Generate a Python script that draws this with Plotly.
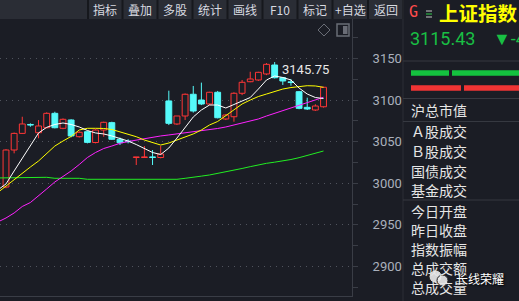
import plotly.graph_objects as go

W, H = 519, 301

# ---------------- data ----------------
idx = list(range(40))
opens = [2995.5, 3040, 3060, 3070.5, 3060.8, 3066.8, 3084.1, 3066.1, 3076.1, 3056,
         3062, 3049, 3064, 3072.9, 3052.9, 3050.5, 3031, 3031, 3031.5, 3031,
         3099, 3071.3, 3080.9, 3107, 3100.1, 3095.3, 3109.4, 3077.3, 3080, 3108.2,
         3122.1, 3124.2, 3131.4, 3142.2, 3126.9, 3121.6, 3110.1, 3091.3, 3088.1, 3092]
highs = [3041, 3061, 3080, 3072, 3076, 3085.3, 3086, 3078, 3077, 3062.5,
         3063, 3065, 3074, 3074, 3055, 3053, 3031.5, 3044.8, 3040, 3044.8,
         3111.3, 3081, 3108, 3117, 3121, 3110, 3111, 3083, 3109.4, 3124.2,
         3134.1, 3134, 3144.5, 3145.75, 3127.5, 3125.4, 3111, 3102.9, 3095, 3116]
lows = [2994, 3036, 3059.5, 3068, 3054.1, 3066, 3066, 3065, 3055.3, 3055,
        3048, 3048, 3056, 3052, 3046, 3048, 3022, 3031, 3022, 3030,
        3070, 3070, 3076.1, 3085, 3094, 3094, 3078, 3076, 3074, 3106,
        3121.5, 3123, 3130, 3126, 3118.2, 3117.3, 3089, 3088.1, 3087, 3091]
closes = [3040, 3060, 3071.3, 3070, 3068.9, 3084.1, 3066.8, 3076.9, 3056.9, 3061.3,
          3049.2, 3064, 3073.3, 3052.9, 3048.8, 3050, 3031.3, 3031.3, 3031, 3035.2,
          3072.1, 3080.9, 3107, 3086.9, 3095.3, 3109.4, 3078.8, 3082.1, 3108.2, 3121.4,
          3125.4, 3133.4, 3143, 3126.9, 3123, 3121.2, 3090.1, 3089.3, 3092.9, 3115.43]

ma_idx = list(range(-1, 40))
ma5 = [2992, 2999.2, 3014.8, 3030.4, 3044.8, 3060.5, 3067.3, 3070.7, 3072.5, 3070.7, 3067.7,
       3063.5, 3060.5, 3059.3, 3056.9, 3053.8, 3050.8, 3046.6, 3041.8, 3037, 3034.6,
       3042.4, 3054.4, 3067.7, 3079.7, 3088.1, 3094.1, 3094.1, 3090.5, 3094.7, 3098.9,
       3103.1, 3113.3, 3124.2, 3129, 3127.2, 3124.2, 3114.5, 3107.3, 3103.1, 3101.9]
ma10 = [2989, 2996.8, 3004.6, 3011.8, 3019.6, 3026.8, 3035.8, 3044.8, 3050.8, 3056.3, 3064.1,
        3066.1, 3066.1, 3065.9, 3064.7, 3062, 3059.3, 3056, 3052, 3049, 3046,
        3048.4, 3052, 3055.7, 3059.3, 3064.1, 3070.1, 3074.3, 3081.5, 3088.7, 3095.3,
        3100.1, 3104.3, 3107.3, 3110.3, 3113.3, 3115.1, 3116.6, 3117.3, 3117, 3115.4]
ma20 = [2953.5, 2958.3, 2964.3, 2972.1, 2976.9, 2984.7, 2993.2, 3001.6, 3008.2, 3014.8, 3022.6,
        3031, 3037, 3041.8, 3044.8, 3048.1, 3050.2, 3052, 3053.8, 3055.3, 3056.9,
        3058.1, 3059.3, 3060.5, 3061.7, 3063.7, 3064.7, 3065.9, 3067.7, 3070.1, 3072.5,
        3074.3, 3077.3, 3080.9, 3084.1, 3086.9, 3090.5, 3094.1, 3097.1, 3100.1, 3103.4]
ma60 = [3006.4, 3006.4, 3006.4, 3006.4, 3006.4, 3006.4, 3007.2, 3006, 3006, 3006, 3006,
        3004.8, 3004.8, 3004.8, 3004.8, 3004.8, 3004.8, 3004.8, 3004.8, 3004.8, 3004.8,
        3004.8, 3004.8, 3006, 3007, 3008.6, 3010, 3011.8, 3013.6, 3015.4, 3017.8,
        3020, 3022.4, 3024, 3025.4, 3026.6, 3028.6, 3030.8, 3033.2, 3035.8, 3038.8]

yticks = [2900, 2950, 3000, 3050, 3100, 3150]
buttons = ["指标", "叠加", "多股", "统计", "画线", "F10", "标记", "+自选", "返回"]
info_labels = ["沪总市值", "Ａ股成交", "Ｂ股成交", "国债成交", "基金成交",
               "今日开盘", "昨日收盘", "指数振幅", "总成交额", "总成交量"]
index_name = "上证指数"
last_price = "3115.43"
change_text = "▼-4.69"
peak_label = "3145.75"
watermark = "长线荣耀"

# ---------------- style ----------------
BG = "#1b1d25"
BAR_BG = "#2a2d35"
RED = "#ff3636"
CYAN = "#55fafa"
LINE = "#3a3d46"
CJK = "Noto Sans CJK SC"


def px(x):
    return x / W


def py(y):
    return 1 - y / H


fig = go.Figure()

# candle bodies
for is_up, fill, edge in [(True, BG, RED), (False, CYAN, CYAN)]:
    xs, bases, hs = [], [], []
    for i in idx:
        if (closes[i] >= opens[i]) == is_up:
            lo, hi = min(opens[i], closes[i]), max(opens[i], closes[i])
            xs.append(i)
            bases.append(lo)
            hs.append(max(hi - lo, 0.7))
    fig.add_trace(go.Bar(x=xs, y=hs, base=bases, width=0.72,
                         marker=dict(color=fill, line=dict(color=edge, width=1)),
                         hoverinfo="skip", showlegend=False))

# wicks
for is_up, col in [(True, RED), (False, CYAN)]:
    wx, wy = [], []
    for i in idx:
        if (closes[i] >= opens[i]) == is_up:
            lo, hi = min(opens[i], closes[i]), max(opens[i], closes[i])
            if highs[i] > hi:
                wx += [i, i, None]
                wy += [highs[i], hi, None]
            if lows[i] < lo:
                wx += [i, i, None]
                wy += [lo, lows[i], None]
    fig.add_trace(go.Scatter(x=wx, y=wy, mode="lines", line=dict(color=col, width=1),
                             hoverinfo="skip", showlegend=False))

# moving averages
for vals, col in [(ma60, "#22ee22"), (ma20, "#ff22ff"), (ma10, "#ffff00"), (ma5, "#ffffff")]:
    fig.add_trace(go.Scatter(x=ma_idx, y=vals, mode="lines", line=dict(color=col, width=1),
                             hoverinfo="skip", showlegend=False))

shapes = []
annotations = []

# toolbar
shapes.append(dict(type="rect", xref="paper", yref="paper", x0=0, x1=px(403), y0=py(19), y1=1,
                   fillcolor=BAR_BG, line=dict(width=0), layer="below"))
edges = [88, 122.5, 157.5, 192.5, 227.5, 262.5, 297.5, 332.5, 368, 403]
for e in edges:
    shapes.append(dict(type="line", xref="paper", yref="paper", x0=px(e), x1=px(e), y0=py(19), y1=1,
                       line=dict(color="#16181d", width=2)))
for k, name in enumerate(buttons):
    cx = (edges[k] + edges[k + 1]) / 2
    annotations.append(dict(xref="paper", yref="paper", x=px(cx), y=py(10), text=name, showarrow=False,
                            xanchor="center", yanchor="middle",
                            font=dict(family=CJK, size=12, color="#d8dae0")))

# right panel separators
shapes.append(dict(type="line", xref="paper", yref="paper", x0=px(403), x1=px(403), y0=0, y1=1,
                   line=dict(color="#2c2f37", width=1)))
for yy in [61, 98.5, 121.5, 200]:
    shapes.append(dict(type="line", xref="paper", yref="paper", x0=px(403), x1=1, y0=py(yy), y1=py(yy),
                       line=dict(color="#363941", width=1)))

# title row
annotations.append(dict(xref="paper", yref="paper", x=px(407), y=py(12.5), text="G", showarrow=False,
                        xanchor="left", yanchor="middle",
                        font=dict(family="DejaVu Sans Mono", size=15, color="#ff4c4c")))
for yy, col in [(11, "#c8c8c8"), (14, "#2fd04a"), (17, "#c8c8c8")]:
    shapes.append(dict(type="line", xref="paper", yref="paper", x0=px(426), x1=px(432), y0=py(yy), y1=py(yy),
                       line=dict(color=col, width=1)))
annotations.append(dict(xref="paper", yref="paper", x=px(437), y=py(12), text="<b>" + index_name + "</b>",
                        showarrow=False, xanchor="left", yanchor="middle",
                        font=dict(family=CJK, size=19.5, color="#ffff00")))
annotations.append(dict(xref="paper", yref="paper", x=px(408), y=py(38.5), text=last_price,
                        showarrow=False, xanchor="left", yanchor="middle",
                        font=dict(family="Roboto", size=18, color="#19bf44")))
annotations.append(dict(xref="paper", yref="paper", x=px(491), y=py(38.5), text=change_text,
                        showarrow=False, xanchor="left", yanchor="middle",
                        font=dict(family="Roboto", size=18, color="#19bf44")))

# volume ratio bars
for (a, b), yy, col in [((411, 449), 73, "#14c23f"), ((452, 519), 73, "#14c23f"),
                        ((411, 461), 88, "#f03434"), ((464, 519), 88, "#f03434")]:
    shapes.append(dict(type="rect", xref="paper", yref="paper", x0=px(a), x1=px(b),
                       y0=py(yy + 2.8), y1=py(yy - 2.8), fillcolor=col, line=dict(width=0)))

# info list
for name, yy in zip(info_labels, [110, 131, 151, 170.5, 189.5, 211, 230, 249, 268, 287]):
    annotations.append(dict(xref="paper", yref="paper", x=px(409), y=py(yy), text=name, showarrow=False,
                            xanchor="left", yanchor="middle",
                            font=dict(family=CJK, size=14, color="#e6e6e6")))

# chart icons (top right of plot)
shapes.append(dict(type="path", xref="paper", yref="paper",
                   path=f"M {px(324)} {py(24)} L {px(330)} {py(30)} L {px(324)} {py(36)} L {px(318)} {py(30)} Z",
                   line=dict(color="#6a6d76", width=1)))
shapes.append(dict(type="rect", xref="paper", yref="paper", x0=px(337), x1=px(349), y0=py(36), y1=py(24),
                   line=dict(color="#6a6d76", width=1.5)))
shapes.append(dict(type="rect", xref="paper", yref="paper", x0=px(343), x1=px(347.5), y0=py(34), y1=py(26),
                   fillcolor="#6a6d76", line=dict(width=0)))

# peak label
imax = highs.index(max(highs))
annotations.append(dict(x=imax, y=highs[imax], xref="x", yref="y", text=peak_label, showarrow=False,
                        xanchor="left", yanchor="middle", xshift=5, yshift=-7,
                        font=dict(family="Roboto", size=13, color="#e8e8e8")))

# watermark
shapes.append(dict(type="circle", xref="paper", yref="paper", x0=px(429), x1=px(442), y0=py(283), y1=py(270),
                   fillcolor="rgba(235,235,235,0.9)", line=dict(color="#222", width=1)))
shapes.append(dict(type="circle", xref="paper", yref="paper", x0=px(437), x1=px(448), y0=py(286), y1=py(275),
                   fillcolor="rgba(235,235,235,0.9)", line=dict(color="#222", width=1)))
annotations.append(dict(xref="paper", yref="paper", x=px(454), y=py(278), text=watermark, showarrow=False,
                        xanchor="left", yanchor="middle",
                        font=dict(family=CJK, size=12, color="#ffffff", shadow="1px 1px 2px #000")))

fig.update_layout(
    width=W, height=H, margin=dict(l=0, r=0, t=0, b=0),
    paper_bgcolor=BG, plot_bgcolor=BG, barmode="overlay", showlegend=False,
    shapes=shapes, annotations=annotations,
    xaxis=dict(domain=[0, px(352)], range=[-0.737, 42.5], showgrid=False, zeroline=False,
               showticklabels=False, ticks="", showline=True, linecolor=LINE, linewidth=1, fixedrange=True),
    yaxis=dict(domain=[py(296), py(19)], range=[2864.5, 3197.5], side="right",
               tickmode="array", tickvals=yticks, ticks="outside", ticklen=5, tickcolor=LINE,
               showline=True, linecolor=LINE, linewidth=1, zeroline=False,
               showgrid=True, gridcolor="#50535d", griddash="1px,5px", gridwidth=1,
               ticklabelstandoff=12,
               tickfont=dict(family="Roboto", size=13, color="#aab0bc"),
               minor=dict(tickvals=[2875, 2925, 2975, 3025, 3075, 3125, 3175], ticks="outside",
                          ticklen=5, tickcolor=LINE, showgrid=False),
               fixedrange=True),
)

fig.write_html("out.html")
